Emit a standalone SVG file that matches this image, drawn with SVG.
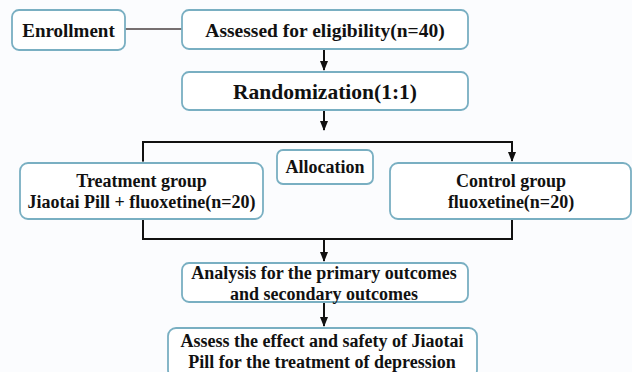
<svg xmlns="http://www.w3.org/2000/svg" width="632" height="372" viewBox="0 0 632 372">
<defs>
<style>
.box{fill:#ffffff;stroke:#79afc2;stroke-width:1.8}
.t{font-family:'Liberation Serif','DejaVu Serif',serif;font-weight:bold;font-size:18px;fill:#111;text-anchor:middle}
.c{fill:none;stroke:#111;stroke-width:2}
</style>
<marker id="ah" viewBox="0 0 10 10" refX="9" refY="5" markerWidth="5" markerHeight="5" orient="auto">
<path d="M0,1 L10,5 L0,9 Z" fill="#111"/>
</marker>
</defs>
<rect width="632" height="372" fill="#fbfcfe"/>
<g id="connectors">
<line x1="125" y1="29" x2="182" y2="29" stroke="#4a4040" stroke-width="1.5"/>
<line class="c" x1="324" y1="50" x2="324" y2="70" marker-end="url(#ah)"/>
<line class="c" x1="324" y1="110" x2="324" y2="130" marker-end="url(#ah)"/>
<polyline class="c" points="143,161 143,142 512,142 512,161" marker-start="url(#ah)" marker-end="url(#ah)"/>
<polyline class="c" points="143,219 143,239 512,239 512,219"/>
<line class="c" x1="324" y1="239" x2="324" y2="261" marker-end="url(#ah)"/>
<line class="c" x1="324" y1="302" x2="324" y2="326" marker-end="url(#ah)"/>
</g>
<g id="enrollment">
<rect class="box" x="12" y="10" width="113" height="40" rx="7"/>
<text class="t" x="68.5" y="37" style="font-size:19px">Enrollment</text>
</g>
<g id="assessed">
<rect class="box" x="182" y="10" width="286" height="39" rx="7"/>
<text class="t" x="325" y="37" style="font-size:19.5px">Assessed for eligibility(n=40)</text>
</g>
<g id="randomization">
<rect class="box" x="182" y="72" width="286" height="38" rx="7"/>
<text class="t" x="325" y="99" style="font-size:21.5px">Randomization(1:1)</text>
</g>
<g id="allocation">
<rect class="box" x="277" y="150" width="96" height="34" rx="6"/>
<text class="t" x="325" y="173">Allocation</text>
</g>
<g id="treatment">
<rect class="box" x="20" y="163" width="243" height="56" rx="8"/>
<text class="t" x="141.5" y="187">Treatment group</text>
<text class="t" x="141.5" y="208">Jiaotai Pill + fluoxetine(n=20)</text>
</g>
<g id="control">
<rect class="box" x="390" y="163" width="241" height="56" rx="8"/>
<text class="t" x="511" y="187">Control group</text>
<text class="t" x="511" y="208">fluoxetine(n=20)</text>
</g>
<g id="analysis">
<rect class="box" x="182" y="263" width="286" height="39" rx="7"/>
<text class="t" x="324" y="279">Analysis for the primary outcomes</text>
<text class="t" x="324" y="300">and secondary outcomes</text>
</g>
<g id="assess-effect">
<rect class="box" x="168" y="328" width="309" height="50" rx="8"/>
<text class="t" x="322" y="347">Assess the effect and safety of Jiaotai</text>
<text class="t" x="322" y="368">Pill for the treatment of depression</text>
</g>
</svg>
